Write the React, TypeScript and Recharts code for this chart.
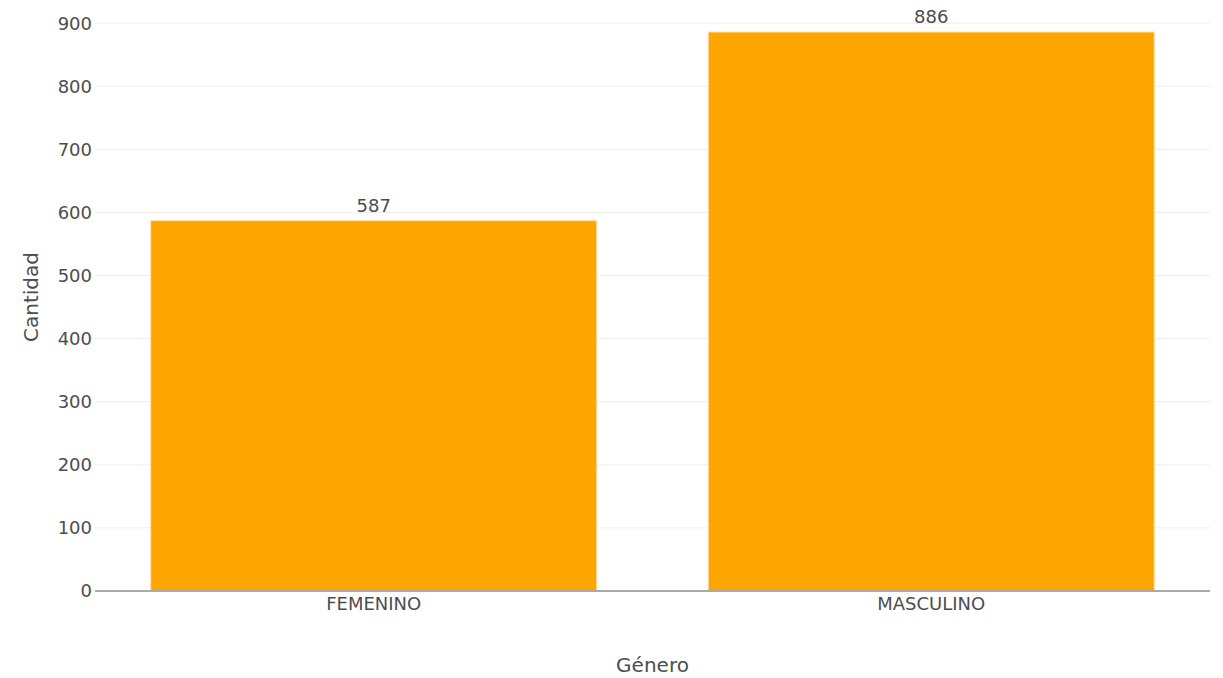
// Bar chart: cantidad por género
import { BarChart, Bar, XAxis, YAxis, CartesianGrid, LabelList } from "recharts";

const categories = ["FEMENINO", "MASCULINO"];
const counts = [587, 886];
const yTicks = [0, 100, 200, 300, 400, 500, 600, 700, 800, 900];

const FONT = "'DejaVu Sans', Verdana, sans-serif";
const TEXT = "#4d4d4d";

const data = categories.map((genero, i) => ({ genero, cantidad: counts[i] }));

export default function App() {
  return (
    <div style={{ position: "fixed", left: 0, top: 0, fontFamily: FONT, background: "#fff" }}>
      <BarChart
        width={1223}
        height={678}
        data={data}
        margin={{ top: 3, right: 13, bottom: 0, left: 0 }}
        barCategoryGap="10%"
      >
        <CartesianGrid vertical={false} horizontalValues={yTicks} stroke="#eee" strokeWidth={1} />
        <XAxis
          dataKey="genero"
          height={87}
          tickLine={false}
          tickSize={0}
          axisLine={{ stroke: "#aaa", strokeWidth: 2 }}
          tickMargin={6}
          tick={{ fill: TEXT, fontSize: 18, fontFamily: FONT }}
          label={{
            value: "Género",
            position: "insideBottom",
            offset: 6,
            fill: TEXT,
            fontSize: 20,
            fontFamily: FONT,
          }}
        />
        <YAxis
          width={95}
          domain={[0, 932]}
          ticks={yTicks}
          tickLine={false}
          axisLine={false}
          tickSize={0}
          tickMargin={3}
          interval={0}
          tick={{ fill: TEXT, fontSize: 18, fontFamily: FONT }}
          label={{
            value: "Cantidad",
            angle: -90,
            position: "insideLeft",
            offset: 31,
            fill: TEXT,
            fontSize: 20,
            fontFamily: FONT,
            style: { textAnchor: "middle" },
          }}
        />
        <Bar
          dataKey="cantidad"
          fill="#FFA500"
          stroke="#ffe0a8"
          strokeWidth={1}
          isAnimationActive={false}
        >
          <LabelList
            dataKey="cantidad"
            position="top"
            offset={9}
            fill={TEXT}
            fontSize={18}
            fontFamily={FONT}
          />
        </Bar>
      </BarChart>
    </div>
  );
}
